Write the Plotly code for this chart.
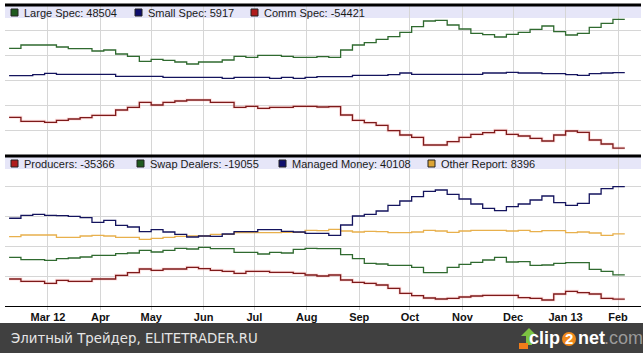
import pandas as pd
import plotly.graph_objects as go

# ---------------- data (weekly COT net positions) ----------------
dates = list(pd.date_range("2012-02-07", periods=52, freq="7D"))

large_spec = [25360, 28000, 28000, 28000, 26400, 25040, 25040, 23200, 24000, 20800,
              18960, 14960, 16560, 15760, 14400, 12800, 14400, 14400, 16000, 18960,
              18160, 19760, 19760, 18960, 18160, 18160, 18640, 18160, 24000, 28000,
              29840, 32560, 34640, 38160, 42640, 47200, 47760, 44000, 40800, 37360,
              36240, 34400, 36560, 38160, 40560, 43200, 38640, 36000, 37360, 42160,
              45360, 48504]
small_spec = [3440, 3440, 4240, 5360, 4560, 4560, 4560, 4560, 4560, 2960,
              2960, 2960, 2960, 2160, 2160, 2160, 2160, 2160, 1360, 2160,
              2160, 2160, 1360, 2160, 1360, 2160, 2640, 2640, 2640, 3760,
              3760, 3760, 4240, 5600, 4560, 4560, 4560, 4560, 4560, 4560,
              5600, 5600, 6160, 5600, 5600, 5040, 5040, 4240, 3760, 5040,
              5600, 5917]
comm_spec = [-29840, -33040, -33040, -33840, -32240, -31200, -30160, -28240, -28240, -24000,
             -21840, -17840, -20000, -17840, -16800, -16000, -16000, -17840, -17840, -21840,
             -21040, -22640, -21840, -21840, -21040, -21040, -21600, -21360, -28000, -32240,
             -34160, -36240, -40560, -44000, -45840, -52000, -52000, -49360, -45840, -43440,
             -42160, -40240, -43440, -44800, -46640, -48800, -44000, -40800, -41840, -48000,
             -51200, -54421]

producers = [-21870, -23420, -23420, -24760, -22750, -23420, -23420, -21870, -21870, -19390,
             -17650, -15160, -16040, -15160, -15160, -14020, -14960, -16040, -16710, -18050,
             -16710, -16710, -17380, -17380, -18050, -19190, -19860, -19190, -22550, -24090,
             -24760, -25900, -28110, -31470, -33080, -34620, -35290, -34820, -33950, -33280,
             -32810, -32810, -32810, -34420, -34820, -35970, -31940, -30130, -31070, -31940,
             -34820, -35366]
swap_dealers = [-7310, -8920, -8920, -9330, -8250, -7780, -7110, -5970, -5970, -4900,
                -4430, -2620, -3760, -2620, -1270, -1740, -600, -1540, -1540, -3960,
                -3960, -5100, -3960, -4430, -1950, -1270, -1540, -1540, -5570, -8250,
                -11340, -11810, -12680, -12680, -14020, -17650, -17650, -14020, -12010, -10670,
                -9130, -7310, -10470, -10270, -12680, -12480, -11340, -10940, -10940, -15370,
                -16710, -19055]
managed_money = [18900, 20870, 21540, 20870, 20600, 20200, 19260, 16170, 17510, 14160,
                 13020, 9860, 11210, 9660, 8120, 6310, 6980, 6780, 8320, 9860,
                 9860, 11210, 11210, 10130, 9660, 8790, 8790, 7450, 14360, 20400,
                 21540, 23750, 27580, 30460, 33350, 36970, 37840, 34960, 31810, 28450,
                 25570, 23950, 26640, 28450, 31130, 33820, 29320, 27580, 28920, 35160,
                 38720, 40108]
other_report = [6510, 7650, 7650, 7650, 6110, 6110, 6980, 7450, 6980, 6110,
                6110, 4760, 5440, 6110, 6780, 6980, 6980, 8120, 8120, 9190,
                9190, 9190, 9190, 9460, 9460, 10800, 10530, 11470, 10330, 9660,
                10130, 9860, 9190, 9190, 9660, 10800, 10330, 9460, 10330, 10800,
                10800, 10800, 10330, 10800, 9860, 10530, 10530, 9190, 9660, 8990,
                7450, 8396]

month_ticks = ["2012-03-01", "2012-04-01", "2012-05-01", "2012-06-01", "2012-07-01",
               "2012-08-01", "2012-09-01", "2012-10-01", "2012-11-01", "2012-12-01",
               "2013-01-01", "2013-02-01"]
month_labels = ["Mar 12", "Apr", "May", "Jun", "Jul", "Aug", "Sep", "Oct", "Nov",
                "Dec", "Jan 13", "Feb"]

# ---------------- styling ----------------
W, H = 643, 353
GREEN, NAVY, RED, ORANGE = "#2f6a2f", "#14145e", "#7e1a1a", "#e8b04c"
SQ_GREEN, SQ_NAVY, SQ_RED, SQ_ORANGE = "#1f5a1f", "#0e0e6e", "#b01c1c", "#dca436"
GRID = "#d6d6d6"
STRIP = "#e6e6f8"


def px_x(x):
    return x / W


def px_y(y):
    return 1 - y / H


# step series: each weekly value spans its week
x_step = dates + [dates[-1] + pd.Timedelta(days=7)]


def ext(v):
    return v + [v[-1]]


fig = go.Figure()

top_series = [(large_spec, GREEN, False), (small_spec, NAVY, False), (comm_spec, RED, True)]
bot_series = [(other_report, ORANGE, False), (swap_dealers, GREEN, False),
              (producers, RED, True), (managed_money, NAVY, False)]

GLOW = dict(color="rgba(255,160,160,0.32)", width=3)

for vals, col, glow in top_series:
    if glow:
        fig.add_trace(go.Scatter(x=x_step, y=ext(vals), mode="lines", line_shape="hv",
                                 line=GLOW, hoverinfo="skip", xaxis="x", yaxis="y"))
    fig.add_trace(go.Scatter(x=x_step, y=ext(vals), mode="lines", line_shape="hv",
                             line=dict(color=col, width=1.3), xaxis="x", yaxis="y"))
for vals, col, glow in bot_series:
    if glow:
        fig.add_trace(go.Scatter(x=x_step, y=ext(vals), mode="lines", line_shape="hv",
                                 line=GLOW, hoverinfo="skip", xaxis="x2", yaxis="y2"))
    fig.add_trace(go.Scatter(x=x_step, y=ext(vals), mode="lines", line_shape="hv",
                             line=dict(color=col, width=1.3), xaxis="x2", yaxis="y2"))

xrange = ["2012-02-04 14:00", "2013-02-14 14:00"]
xdom = [px_x(5), px_x(641)]

common_x = dict(range=xrange, type="date", tickmode="array", tickvals=month_ticks,
                showgrid=True, gridcolor=GRID, gridwidth=1,
                zeroline=False, fixedrange=True)

fig.update_layout(
    width=W, height=H, margin=dict(l=0, r=0, t=0, b=0),
    paper_bgcolor="white", plot_bgcolor="white", showlegend=False,
    xaxis=dict(domain=xdom, anchor="y", showticklabels=False, ticks="",
               ticktext=month_labels, **common_x),
    yaxis=dict(domain=[px_y(155), px_y(5)], range=[-60000, 60000], dtick=20000, tick0=0,
               showgrid=True, gridcolor=GRID, zeroline=False, showticklabels=False,
               anchor="x"),
    xaxis2=dict(domain=xdom, anchor="y2", showticklabels=True, ticks="outside", ticklen=3,
                tickcolor="#cccccc", showline=True, linecolor="black", linewidth=1,
                ticklabelstandoff=-2,
                ticktext=[f"<b>{t}</b>" for t in month_labels],
                tickfont=dict(family="Liberation Sans, Arial", size=11, color="#111111"),
                **common_x),
    yaxis2=dict(domain=[px_y(306), px_y(157)], range=[-40000, 60000], dtick=20000, tick0=0,
                showgrid=True, gridcolor=GRID, zeroline=False, showticklabels=False,
                anchor="x2"),
)

shapes = []
# legend strips (below grid)
for y0, y1 in [(6, 18), (157, 169)]:
    shapes.append(dict(type="rect", xref="paper", yref="paper", layer="below",
                       x0=px_x(5), x1=px_x(641), y0=px_y(y1), y1=px_y(y0),
                       fillcolor=STRIP, line=dict(width=0)))
# thick black rules
for yc in [5, 156]:
    shapes.append(dict(type="line", xref="paper", yref="paper",
                       x0=px_x(5), x1=px_x(641), y0=px_y(yc), y1=px_y(yc),
                       line=dict(color="black", width=3)))
# footer band
shapes.append(dict(type="rect", xref="paper", yref="paper", x0=0, x1=1,
                   y0=0, y1=px_y(323), fillcolor="#404040", line=dict(width=0)))

annotations = []

LEG_FONT = dict(family="Liberation Sans, Arial", size=11, color="#1a1a1a")


def legend_item(x_sq, yc, color, text):
    shapes.append(dict(type="rect", xref="paper", yref="paper",
                       x0=px_x(x_sq), x1=px_x(x_sq + 7), y0=px_y(yc + 3.5), y1=px_y(yc - 3.5),
                       fillcolor=color, line=dict(color="#222222", width=1)))
    annotations.append(dict(text=text, xref="paper", yref="paper", x=px_x(x_sq + 11),
                            y=px_y(yc), xanchor="left", yanchor="middle", showarrow=False,
                            font=LEG_FONT))


legend_item(11, 12.5, SQ_GREEN, f"Large Spec: {large_spec[-1]}")
legend_item(135, 12.5, SQ_NAVY, f"Small Spec: {small_spec[-1]}")
legend_item(251, 12.5, SQ_RED, f"Comm Spec: {comm_spec[-1]}")

legend_item(11, 163.5, SQ_RED, f"Producers: {producers[-1]}")
legend_item(137, 163.5, SQ_GREEN, f"Swap Dealers: {swap_dealers[-1]}")
legend_item(279, 163.5, SQ_NAVY, f"Managed Money: {managed_money[-1]}")
legend_item(428, 163.5, SQ_ORANGE, f"Other Report: {other_report[-1]}")

# footer texts
annotations.append(dict(text="Элитный Трейдер, ELITETRADER.RU", xref="paper", yref="paper",
                        x=px_x(9), y=px_y(338), xanchor="left", yanchor="middle",
                        showarrow=False,
                        font=dict(family="DejaVu Sans", size=13.3, color="#e6e6e6")))

# clip2net logo
shapes.append(dict(type="path", xref="paper", yref="paper",
                   path=(f"M {px_x(529)} {px_y(328)} L {px_x(537)} {px_y(336)} "
                         f"L {px_x(532)} {px_y(336)} L {px_x(532)} {px_y(345)} "
                         f"L {px_x(526)} {px_y(345)} L {px_x(526)} {px_y(336)} "
                         f"L {px_x(521)} {px_y(336)} Z"),
                   fillcolor="#7cc242", line=dict(width=0)))
shapes.append(dict(type="rect", xref="paper", yref="paper",
                   x0=px_x(519), x1=px_x(528), y0=px_y(349), y1=px_y(343),
                   fillcolor="#f07d1a", line=dict(width=0)))
shapes.append(dict(type="circle", xref="paper", yref="paper",
                   x0=px_x(562), x1=px_x(576), y0=px_y(346), y1=px_y(332),
                   fillcolor="#f08a1c", line=dict(width=0)))
LOGO = dict(family="Liberation Sans, Arial", size=18, color="white")
annotations.append(dict(text="<b>clip</b>", xref="paper", yref="paper", x=px_x(562),
                        y=px_y(338), xanchor="right", yanchor="middle", showarrow=False,
                        font=LOGO))
annotations.append(dict(text="<b>2</b>", xref="paper", yref="paper", x=px_x(569),
                        y=px_y(338.5), xanchor="center", yanchor="middle", showarrow=False,
                        font=dict(family="Liberation Sans, Arial", size=15, color="white")))
annotations.append(dict(text="<b>net</b>", xref="paper", yref="paper", x=px_x(576),
                        y=px_y(338), xanchor="left", yanchor="middle", showarrow=False,
                        font=LOGO))
annotations.append(dict(text=".com", xref="paper", yref="paper", x=px_x(602),
                        y=px_y(338), xanchor="left", yanchor="middle", showarrow=False,
                        font=dict(family="Liberation Sans, Arial", size=18, color="#9a9a9a")))

fig.update_layout(shapes=shapes, annotations=annotations)
fig.write_html("out.html")
